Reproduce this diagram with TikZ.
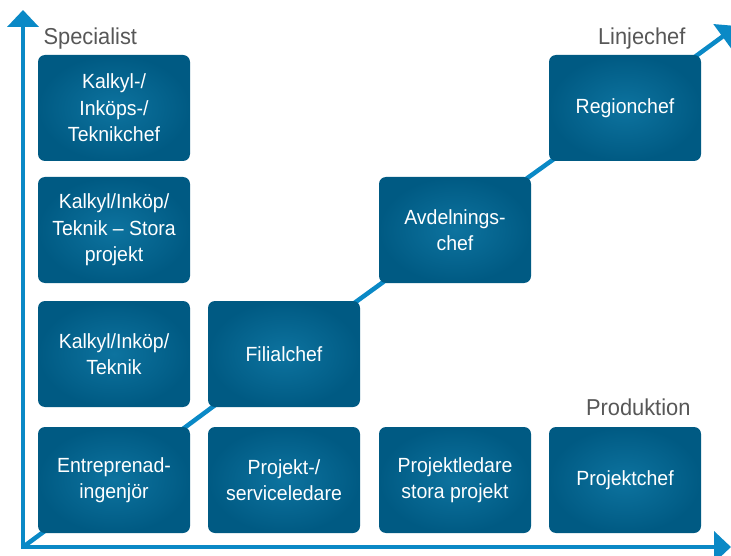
\documentclass[tikz,border=0pt]{standalone}
\usepackage{fontspec}
\setmainfont{Liberation Sans}[FakeStretch=0.95]
\usetikzlibrary{arrows.meta, positioning, backgrounds}
\definecolor{axisblue}{HTML}{0A89C6}
\definecolor{boxdark}{HTML}{005A83}
\definecolor{boxlight}{HTML}{0D739F}
\definecolor{labelgray}{HTML}{575757}
\tikzset{
    role/.style={rounded corners=7pt, inner color=boxlight, outer color=boxdark, minimum width=152pt, minimum height=106pt, text=white, align=center, font=\fontsize{20.5}{26.5}\selectfont},
    axis/.style={axisblue, line width=4pt, {Triangle[length=17pt, width=31pt]}-{Triangle[length=17pt, width=31pt]}},
    track/.style={axisblue, line width=4.5pt, -{Triangle[length=18pt, width=30pt]}},
    lab/.style={labelgray, font=\fontsize{23}{26}\selectfont}
}

\begin{document}
\begin{tikzpicture}[x=1pt, y=-1pt]
        \useasboundingbox (0,0) rectangle (731,556);

        % Corner points of the axes
        \coordinate (O) at (23,547);
        \coordinate (ytip) at (23,10);
        \coordinate (xtip) at (731,547);
        \coordinate (ltip) at (737,26);

        % Nodes for the specialist column
        \node[role] (spec3) at (114,108) {Kalkyl-/\\Inköps-/\\Teknikchef};
        \node[role] (spec2) at (114,230) {Kalkyl/Inköp/\\Teknik – Stora\\projekt};
        \node[role] (spec1) at (114,354) {Kalkyl/Inköp/\\Teknik};

        % Nodes for the production row
        \node[role] (ent) at (114,480) {Entreprenad-\\ingenjör};
        \node[role] (proj) at (284,480) {Projekt-/\\serviceledare};
        \node[role] (stora) at (455,480) {Projektledare\\stora projekt};
        \node[role] (pchef) at (625,480) {Projektchef};

        % Nodes for the line manager diagonal
        \node[role] (fil) at (284,354) {Filialchef};
        \node[role] (avd) at (455,230) {Avdelnings-\\chef};
        \node[role] (reg) at (625,108) {Regionchef};

        % Axes and the diagonal behind the boxes
        \begin{scope}[on background layer]
            \draw[axis] (ytip) -- (O) -- (xtip);
            \draw[track] (O) -- (ent.center) -- (fil.center) -- (avd.center) -- (reg.center) -- (ltip);
        \end{scope}

        % Labels for the three careers
        \node[lab, anchor=base west] (lspec) at (40,45) {Specialist};
        \node[lab, anchor=base east] (llinje) at (689,45) {Linjechef};
        \node[lab, anchor=base east] (lprod) at (694,415) {Produktion};
    \end{tikzpicture}
\end{document}
